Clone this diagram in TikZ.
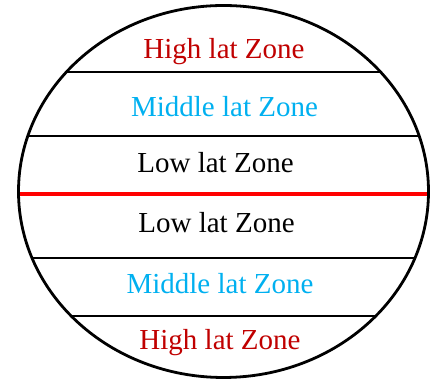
\documentclass[tikz,border=0pt]{standalone}
\usepackage{fontspec}
\setmainfont{Liberation Serif}
\definecolor{highred}{HTML}{C00000}
\definecolor{midblue}{HTML}{00B0F0}
\definecolor{eqred}{HTML}{FF0000}
\begin{document}
\begin{tikzpicture}[x=1pt,y=1pt,
  zone/.style={anchor=base,inner sep=0pt,font=\fontsize{29}{32}\selectfont},
  band/.style={line width=1.8pt,black}]
\useasboundingbox (0,0) rectangle (437,379);
\begin{scope}
\clip (223.5,187.5) ellipse [x radius=205,y radius=186];
\draw[band] (0,307) -- (437,307);
\draw[band] (0,243) -- (437,243);
\draw[band] (0,121) -- (437,121);
\draw[band] (0,63) -- (437,63);
\draw[line width=3.5pt,eqred] (0,185) -- (437,185);
\end{scope}
\draw[line width=2.8pt] (223.5,187.5) ellipse [x radius=205,y radius=186];
\node[zone,highred] (h1) at (224,320) {High lat Zone};
\node[zone,midblue] (m1) at (224.5,262) {Middle lat Zone};
\node[zone] (l1) at (215.5,206) {Low lat Zone};
\node[zone] (l2) at (216.5,146) {Low lat Zone};
\node[zone,midblue] (m2) at (220,85) {Middle lat Zone};
\node[zone,highred] (h2) at (220,29) {High lat Zone};
\end{tikzpicture}
\end{document}
